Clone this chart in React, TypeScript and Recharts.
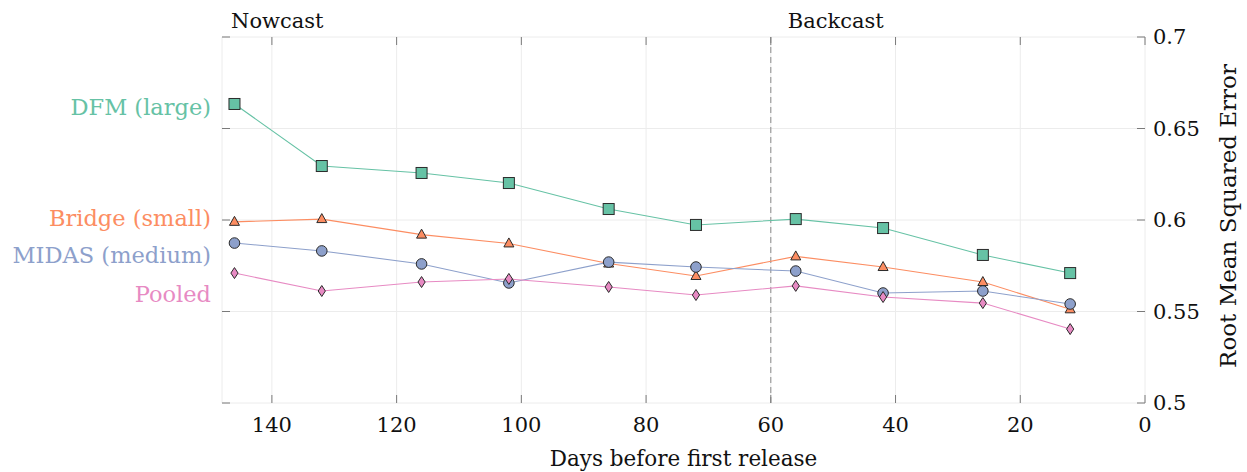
import React from "react";
import {
  LineChart,
  Line,
  XAxis,
  YAxis,
  CartesianGrid,
  ReferenceLine,
  ReferenceDot,
} from "recharts";

const days = [146, 132, 116, 102, 86, 72, 56, 42, 26, 12];
const dfm = [0.6634, 0.6295, 0.6257, 0.6202, 0.606, 0.5973, 0.6005, 0.5956, 0.5809, 0.571];
const bridge = [0.599, 0.6005, 0.592, 0.5872, 0.5762, 0.5694, 0.5801, 0.5743, 0.5661, 0.5512];
const midas = [0.5874, 0.5831, 0.576, 0.5656, 0.577, 0.5743, 0.5721, 0.5601, 0.5612, 0.5541];
const pooled = [0.571, 0.5612, 0.5661, 0.5678, 0.5634, 0.559, 0.564, 0.5579, 0.5546, 0.5404];

const xTicks = [140, 120, 100, 80, 60, 40, 20, 0];
const yTicks = [0.5, 0.55, 0.6, 0.65, 0.7];

const seriesNames = ["DFM (large)", "Bridge (small)", "MIDAS (medium)", "Pooled"];
const nameLabelY = [0.6617, 0.601, 0.5809, 0.5596];

const colors = ["#66c2a5", "#fc8d62", "#8da0cb", "#e78ac3"];
const keys = ["dfm", "bridge", "midas", "pooled"];
const shapes = ["square", "triangle", "circle", "diamond"];

const data = days.map((d, i) => ({
  day: d,
  dfm: dfm[i],
  bridge: bridge[i],
  midas: midas[i],
  pooled: pooled[i],
}));

const FONT = "'DejaVu Serif', serif";
const W = 1247;
const H = 472;
const TOP = 37;
const LEFT = 222;
const RIGHT_W = 102;
const BOTTOM_H = 69;
const PLOT_BOTTOM = H - BOTTOM_H;
const PLOT_RIGHT = W - RIGHT_W;
const TICK = "#7a7a7a";
const EDGE = "#2b2b2b";

function makeDot(shape: string, color: string) {
  return (props: any) => {
    const { cx, cy, index } = props;
    if (cx == null || cy == null) return <g key={index} />;
    if (shape === "square") {
      return <rect key={index} x={cx - 5.5} y={cy - 5.5} width={11} height={11} fill={color} stroke={EDGE} strokeWidth={1} />;
    }
    if (shape === "triangle") {
      return (
        <polygon
          key={index}
          points={`${cx},${cy - 5.5} ${cx + 5},${cy + 3.5} ${cx - 5},${cy + 3.5}`}
          fill={color}
          stroke={EDGE}
          strokeWidth={1}
        />
      );
    }
    if (shape === "circle") {
      return <circle key={index} cx={cx} cy={cy} r={5.3} fill={color} stroke={EDGE} strokeWidth={1} />;
    }
    return (
      <polygon
        key={index}
        points={`${cx},${cy - 5.5} ${cx + 3.6},${cy} ${cx},${cy + 5.5} ${cx - 3.6},${cy}`}
        fill={color}
        stroke={EDGE}
        strokeWidth={1}
      />
    );
  };
}

const XTick = (props: any) => {
  const { x, payload } = props;
  return (
    <g>
      <line x1={x} x2={x} y1={TOP} y2={TOP + 8} stroke={TICK} strokeWidth={1} />
      <line x1={x} x2={x} y1={PLOT_BOTTOM} y2={PLOT_BOTTOM - 8} stroke={TICK} strokeWidth={1} />
      <text x={x} y={PLOT_BOTTOM + 29} textAnchor="middle" fontFamily={FONT} fontSize={21} fill="#111">
        {payload.value}
      </text>
    </g>
  );
};

const YTick = (props: any) => {
  const { y, payload } = props;
  return (
    <g>
      <line x1={LEFT} x2={LEFT + 8} y1={y} y2={y} stroke={TICK} strokeWidth={1} />
      <line x1={PLOT_RIGHT - 8} x2={PLOT_RIGHT} y1={y} y2={y} stroke={TICK} strokeWidth={1} />
      <text x={PLOT_RIGHT + 8} y={y} dominantBaseline="central" fontFamily={FONT} fontSize={21} fill="#111">
        {String(payload.value)}
      </text>
    </g>
  );
};

export default function App() {
  return (
    <div style={{ position: "absolute", left: 0, top: 0, width: W, height: H, background: "#fff" }}>
      <LineChart width={W} height={H} data={data} margin={{ top: TOP, left: LEFT, right: 0, bottom: 0 }}>
        <CartesianGrid stroke="#ececec" strokeWidth={1} />
        <XAxis
          dataKey="day"
          type="number"
          domain={[0, 148]}
          reversed
          ticks={xTicks}
          tick={<XTick />}
          tickLine={false}
          axisLine={false}
          height={BOTTOM_H}
          interval={0}
          label={{
            value: "Days before first release",
            position: "insideBottom",
            offset: 6,
            style: { fontFamily: FONT, fontSize: 21.5, fill: "#111" },
          }}
        />
        <YAxis
          orientation="right"
          type="number"
          domain={[0.5, 0.7]}
          ticks={yTicks}
          tick={<YTick />}
          tickLine={false}
          axisLine={false}
          width={RIGHT_W}
          interval={0}
          label={{
            content: (p: any) => {
              const vb = p.viewBox;
              const cx = vb.x + vb.width - 19;
              const cy = vb.y + vb.height / 2 - 4;
              return (
                <text
                  x={cx}
                  y={cy}
                  transform={`rotate(-90 ${cx} ${cy})`}
                  textAnchor="middle"
                  dominantBaseline="central"
                  fontFamily={FONT}
                  fontSize={23}
                  fill="#111"
                >
                  Root Mean Squared Error
                </text>
              );
            },
          }}
        />
        <ReferenceLine x={60} stroke="#8a8a8a" strokeDasharray="6 4" strokeWidth={1} />
        <ReferenceDot
          x={148}
          y={0.7}
          r={0}
          ifOverflow="visible"
          shape={(p: any) => (
            <text x={p.cx + 9} y={p.cy - 9} fontFamily={FONT} fontSize={21} fill="#111">
              Nowcast
            </text>
          )}
        />
        <ReferenceDot
          x={60}
          y={0.7}
          r={0}
          ifOverflow="visible"
          shape={(p: any) => (
            <text x={p.cx + 17} y={p.cy - 9} fontFamily={FONT} fontSize={21} fill="#111">
              Backcast
            </text>
          )}
        />
        {seriesNames.map((name, i) => (
          <ReferenceDot
            key={name}
            x={148}
            y={nameLabelY[i]}
            r={0}
            ifOverflow="visible"
            shape={(p: any) => (
              <text
                x={p.cx - 11}
                y={p.cy}
                textAnchor="end"
                dominantBaseline="central"
                fontFamily={FONT}
                fontSize={22.5}
                fill={colors[i]}
              >
                {name}
              </text>
            )}
          />
        ))}
        {keys.map((k, i) => (
          <Line
            key={k}
            type="linear"
            dataKey={k}
            stroke={colors[i]}
            strokeWidth={1.1}
            dot={makeDot(shapes[i], colors[i])}
            activeDot={false}
            isAnimationActive={false}
          />
        ))}
      </LineChart>
    </div>
  );
}
